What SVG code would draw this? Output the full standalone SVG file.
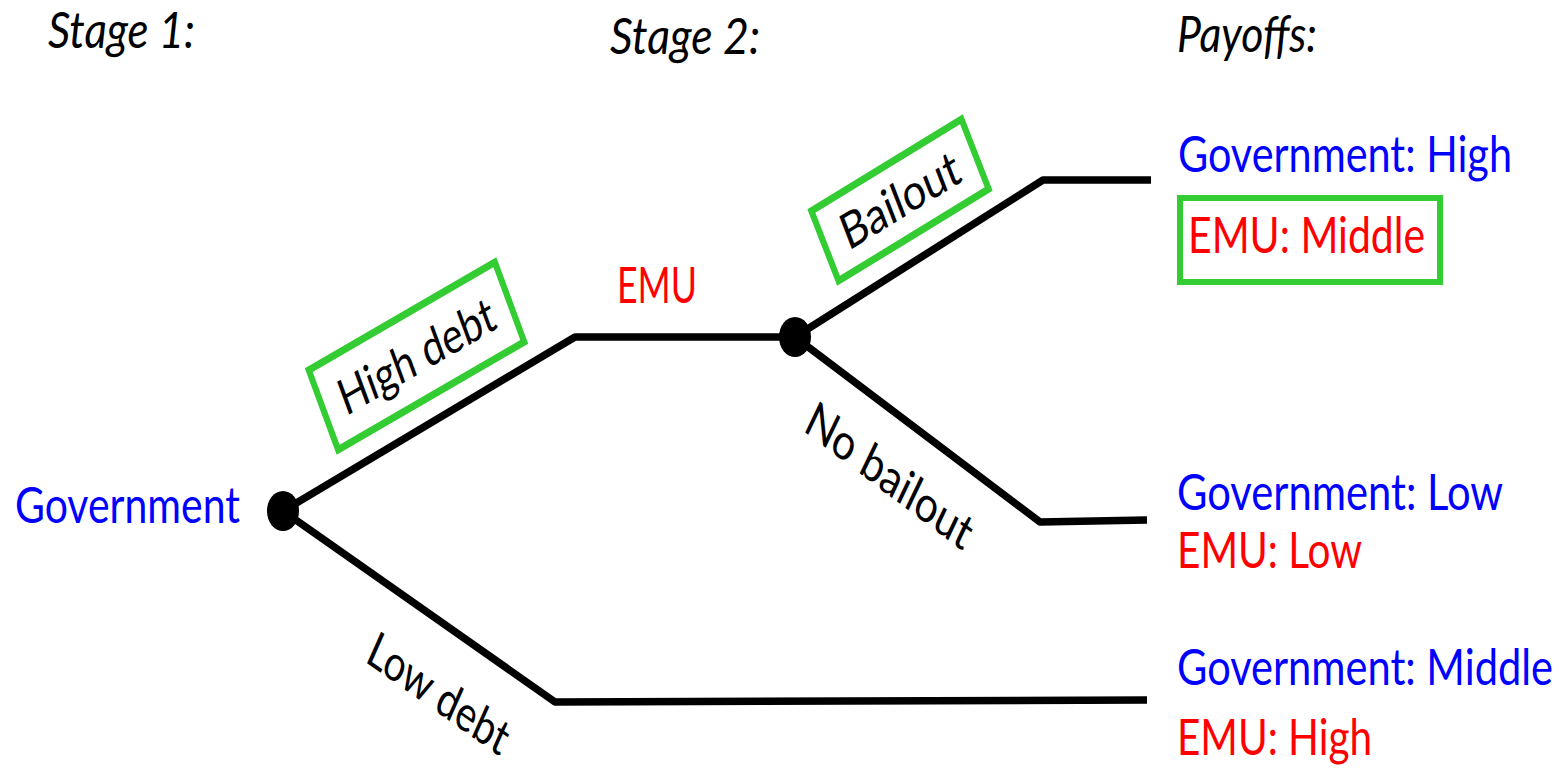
<svg xmlns="http://www.w3.org/2000/svg" width="1563" height="772" viewBox="0 0 1563 772">
<style>
.t{font-family:Lato,"Open Sans","Liberation Sans",sans-serif;font-size:40px;}
.it{font-style:italic;fill:#000;}
.blk{fill:#000;}
.blue{fill:#0000ff;}
.red{fill:#ff0000;}
.edge{fill:none;stroke:#000;stroke-width:7.5;stroke-linejoin:round;stroke-linecap:butt;}
.box{fill:#fff;stroke:#33cc33;stroke-width:6;}
.dot{fill:#000;}
</style>
<rect width="1563" height="772" fill="#fff"/>
<g id="stage-headers">
<text class="t it" transform="translate(48,48) scale(1,1.25)" textLength="147" lengthAdjust="spacingAndGlyphs">Stage 1:</text>
<text class="t it" transform="translate(610,54) scale(1,1.25)" textLength="150" lengthAdjust="spacingAndGlyphs">Stage 2:</text>
<text class="t it" transform="translate(1177,52) scale(1,1.25)" textLength="140" lengthAdjust="spacingAndGlyphs">Payoffs:</text>
</g>
<g id="connectors">
<polyline class="edge" points="283,511 575,337 795,337"/>
<polyline class="edge" points="795,337 1043,180 1151,180"/>
<polyline class="edge" points="795,337 1040,522 1147,520"/>
<polyline class="edge" points="283,511 555,702 1147,700"/>
</g>
<g id="edge-labels">
<g id="label-high-debt" transform="translate(416.5,356) scale(1,1.254) rotate(-24.8)">
<rect class="box" x="-102.5" y="-35" width="205" height="70"/>
<text class="t blk" x="0" y="14" text-anchor="middle" textLength="168" lengthAdjust="spacingAndGlyphs">High debt</text>
</g>
<g id="label-bailout" transform="translate(900,200) scale(1,1.254) rotate(-26)">
<rect class="box" x="-83.5" y="-31" width="167" height="62"/>
<text class="t blk" x="0" y="14" text-anchor="middle" textLength="128" lengthAdjust="spacingAndGlyphs">Bailout</text>
</g>
<text class="t blk" transform="translate(802,430) scale(1,1.254) rotate(31)" textLength="188" lengthAdjust="spacingAndGlyphs">No bailout</text>
<text class="t blk" transform="translate(364,661) scale(1,1.254) rotate(29.3)" textLength="156" lengthAdjust="spacingAndGlyphs">Low debt</text>
</g>
<g id="node-government">
<ellipse class="dot" cx="283" cy="511" rx="16" ry="20"/>
<text class="t blue" transform="translate(15,523) scale(1,1.25)" textLength="225" lengthAdjust="spacingAndGlyphs">Government</text>
</g>
<g id="node-emu">
<ellipse class="dot" cx="795" cy="337" rx="16" ry="20"/>
<text class="t red" transform="translate(617,303) scale(1,1.25)" textLength="80" lengthAdjust="spacingAndGlyphs">EMU</text>
</g>
<g id="payoff-bailout">
<text class="t blue" transform="translate(1178,172) scale(1,1.25)" textLength="334" lengthAdjust="spacingAndGlyphs">Government: High</text>
<rect class="box" x="1180" y="198" width="260" height="84"/>
<text class="t red" transform="translate(1188,253) scale(1,1.25)" textLength="237" lengthAdjust="spacingAndGlyphs">EMU: Middle</text>
</g>
<g id="payoff-no-bailout">
<text class="t blue" transform="translate(1177,510) scale(1,1.25)" textLength="326" lengthAdjust="spacingAndGlyphs">Government: Low</text>
<text class="t red" transform="translate(1177,568) scale(1,1.25)" textLength="185" lengthAdjust="spacingAndGlyphs">EMU: Low</text>
</g>
<g id="payoff-low-debt">
<text class="t blue" transform="translate(1177,685) scale(1,1.25)" textLength="376" lengthAdjust="spacingAndGlyphs">Government: Middle</text>
<text class="t red" transform="translate(1177,755) scale(1,1.25)" textLength="195" lengthAdjust="spacingAndGlyphs">EMU: High</text>
</g>
</svg>
